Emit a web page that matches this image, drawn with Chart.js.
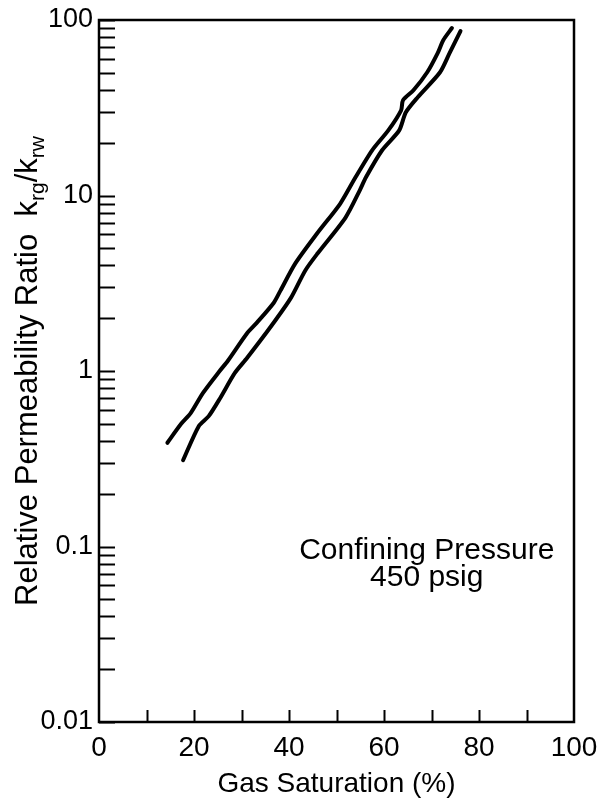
<!DOCTYPE html>
<html lang="en">
<head>
<meta charset="UTF-8">
<title>Relative Permeability Ratio</title>
<script src="https://cdn.jsdelivr.net/npm/chart.js@4.4.1/dist/chart.umd.min.js"></script>
<style>
    html, body { margin: 0; padding: 0; background: #fff; }
    #caixa { width: 598px; height: 807px; }
</style>
</head>
<body>
<div id="caixa"><canvas id="grafico" width="598" height="807"></canvas></div>
<script>
// 1. DADOS
// Curva da esquerda (mais alta)
const saturacaoEsq = [14.4, 17.3, 19.3, 21.9, 25.4, 27.1, 31.1, 33.2, 36.8, 38.2, 41.3, 45.9, 50.8, 54.0, 57.5, 60.9, 63.6, 64.0, 66.2, 69.1, 71.3, 72.5, 74.3];
const razaoEsq = [0.39, 0.50, 0.575, 0.75, 1.0, 1.14, 1.63, 1.88, 2.45, 2.87, 4.09, 6.07, 9.0, 12.7, 18.1, 23.5, 30.6, 34.9, 39.8, 50.4, 64.8, 76.9, 90];

// Curva da direita
const saturacaoDir = [17.7, 21.0, 23.1, 25.5, 28.6, 31.2, 36.3, 40.4, 43.4, 46.0, 51.9, 54.9, 56.2, 59.6, 63.2, 64.6, 67.1, 71.8, 73.8, 76.1];
const razaoDir = [0.31, 0.485, 0.553, 0.70, 0.975, 1.19, 1.81, 2.61, 3.73, 4.67, 7.49, 10.7, 12.7, 18.1, 23.5, 29.8, 36.3, 50.4, 64.8, 86.5];

// Eixos
const ticksX = [0, 10, 20, 30, 40, 50, 60, 70, 80, 90, 100];
const rotulosX = ['0', '', '20', '', '40', '', '60', '', '80', '', '100'];
const decadasY = [0.01, 0.1, 1, 10, 100];
const rotulosY = ['0.01', '0.1', '1', '10', '100'];
const notaTexto = ['Confining Pressure', '450 psig'];

const fonte = '"Liberation Sans", Arial, Helvetica, sans-serif';

// Marcas menores do eixo log: 1..9 de cada década
const ticksY = [];
decadasY.forEach((d, i) => {
    if (i === decadasY.length - 1) { ticksY.push(d); return; }
    for (let m = 1; m <= 9; m++) ticksY.push(Number((d * m).toPrecision(3)));
});

const paraPontos = (xs, ys) => xs.map((x, i) => ({ x: x, y: ys[i] }));

// 2. PLUGIN: moldura, marcas internas, título do eixo Y e nota
const pluginMoldura = {
    id: 'moldura',
    afterDraw(chart) {
        const ctx = chart.ctx;
        const area = chart.chartArea;
        const escX = chart.scales.x;
        const escY = chart.scales.y;

        ctx.save();
        ctx.strokeStyle = '#000';
        ctx.lineWidth = 2.5;
        ctx.strokeRect(area.left, area.top, area.right - area.left, area.bottom - area.top);

        // marcas do eixo Y (para dentro)
        ctx.lineWidth = 2;
        ticksY.forEach(v => {
            const y = Math.round(escY.getPixelForValue(v)) + 0.5;
            ctx.beginPath();
            ctx.moveTo(area.left, y);
            ctx.lineTo(area.left + 16, y);
            ctx.stroke();
        });

        // marcas do eixo X (para cima)
        ticksX.slice(1, -1).forEach(v => {
            const x = Math.round(escX.getPixelForValue(v)) + 0.5;
            ctx.beginPath();
            ctx.moveTo(x, area.bottom);
            ctx.lineTo(x, area.bottom - 12);
            ctx.stroke();
        });

        // título do eixo Y com subscritos
        const tam = 31;
        const partes = [
            { t: 'Relative Permeability Ratio  k', sub: false },
            { t: 'rg', sub: true },
            { t: '/k', sub: false },
            { t: 'rw', sub: true }
        ];
        const fonteDe = p => (p.sub ? Math.round(tam * 0.68) : tam) + 'px ' + fonte;
        let total = 0;
        partes.forEach(p => { ctx.font = fonteDe(p); p.w = ctx.measureText(p.t).width; total += p.w; });
        ctx.translate(37, 371);
        ctx.rotate(-Math.PI / 2);
        ctx.fillStyle = '#000';
        ctx.textBaseline = 'alphabetic';
        ctx.textAlign = 'left';
        let pos = -total / 2;
        partes.forEach(p => {
            ctx.font = fonteDe(p);
            ctx.fillText(p.t, pos, p.sub ? 7 : 0);
            pos += p.w;
        });
        ctx.restore();

        // nota no canto inferior direito
        ctx.save();
        ctx.fillStyle = '#000';
        ctx.font = '30px ' + fonte;
        ctx.textAlign = 'center';
        ctx.textBaseline = 'alphabetic';
        const xNota = escX.getPixelForValue(69);
        const yNota = escY.getPixelForValue(0.085);
        notaTexto.forEach((linha, i) => ctx.fillText(linha, xNota, yNota + i * 27));
        ctx.restore();
    }
};

// 3. GRÁFICO
const ctx = document.getElementById('grafico').getContext('2d');

new Chart(ctx, {
    type: 'scatter',
    data: {
        datasets: [
            {
                label: 'left curve',
                data: paraPontos(saturacaoEsq, razaoEsq),
                showLine: true,
                borderColor: '#000',
                borderWidth: 4,
                borderCapStyle: 'round',
                pointRadius: 0,
                tension: 0.25
            },
            {
                label: 'right curve',
                data: paraPontos(saturacaoDir, razaoDir),
                showLine: true,
                borderColor: '#000',
                borderWidth: 4,
                borderCapStyle: 'round',
                pointRadius: 0,
                tension: 0.25
            }
        ]
    },
    options: {
        responsive: false,
        animation: false,
        layout: { padding: { top: 20, right: 24, left: 0, bottom: 0 } },
        plugins: {
            legend: { display: false },
            tooltip: { enabled: false }
        },
        scales: {
            x: {
                type: 'linear',
                min: 0,
                max: 100,
                grid: { display: false, drawTicks: false },
                border: { display: false },
                afterBuildTicks: (escala) => { escala.ticks = ticksX.map(v => ({ value: v })); },
                afterFit: (escala) => {
                    escala.height = 85;
                    escala.paddingLeft = 0;
                    escala.paddingRight = 0;
                },
                ticks: {
                    autoSkip: false,
                    maxRotation: 0,
                    padding: 9,
                    color: '#000',
                    font: { family: fonte, size: 28 },
                    callback: (valor) => {
                        const i = ticksX.indexOf(valor);
                        return i >= 0 ? rotulosX[i] : '';
                    }
                },
                title: {
                    display: true,
                    text: 'Gas Saturation (%)',
                    color: '#000',
                    font: { family: fonte, size: 28 },
                    padding: { top: 0, bottom: 6 }
                }
            },
            y: {
                type: 'logarithmic',
                min: 0.01,
                max: 100,
                grid: { display: false, drawTicks: false },
                border: { display: false },
                afterBuildTicks: (escala) => { escala.ticks = ticksY.map(v => ({ value: v })); },
                afterFit: (escala) => {
                    escala.width = 99;
                    escala.paddingTop = 0;
                    escala.paddingBottom = 0;
                },
                ticks: {
                    autoSkip: false,
                    padding: 6,
                    color: '#000',
                    font: { family: fonte, size: 27 },
                    callback: (valor) => {
                        const i = decadasY.findIndex(d => Math.abs(d - valor) / d < 1e-6);
                        return i >= 0 ? rotulosY[i] : '';
                    }
                }
            }
        }
    },
    plugins: [pluginMoldura]
});
</script>
</body>
</html>
